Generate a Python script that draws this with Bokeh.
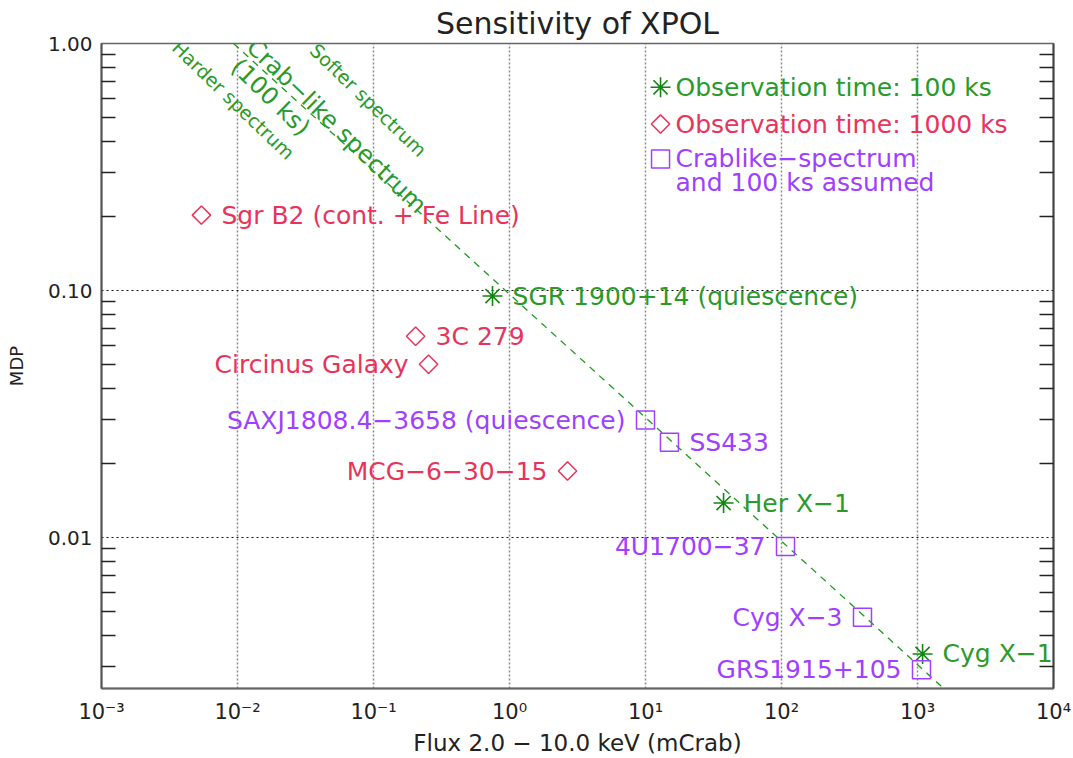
import math
from bokeh.plotting import figure
from bokeh.models import (Range1d, FixedTicker, CustomJSTickFormatter, LogAxis,
                          ColumnDataSource)
from bokeh.core.properties import value
from bokeh.embed import file_html
from bokeh.resources import INLINE

# ---------------- data ----------------
obs100_names = ["SGR 1900+14 (quiescence)", "Her X\u22121", "Cyg X\u22121"]
obs100_flux = [0.75, 37.5, 1090.0]
obs100_mdp = [0.095, 0.0138, 0.00338]
obs100_side = ["right", "right", "right"]

obs1000_names = ["Sgr B2 (cont. + Fe Line)", "3C 279", "Circinus Galaxy", "MCG\u22126\u221230\u221215"]
obs1000_flux = [0.00543, 0.204, 0.254, 2.67]
obs1000_mdp = [0.202, 0.0653, 0.0503, 0.0186]
obs1000_side = ["right", "right", "left", "left"]

crab_names = ["SAXJ1808.4\u22123658 (quiescence)", "SS433", "4U1700\u221237", "Cyg X\u22123", "GRS1915+105"]
crab_flux = [10.0, 15.0, 107.0, 394.0, 1070.0]
crab_mdp = [0.0299, 0.0243, 0.0092, 0.00476, 0.00292]
crab_side = ["left", "right", "left", "left", "left"]

# Crab-like spectrum sensitivity line (100 ks)
crab_line_flux = [0.00935, 1560.0]
crab_line_mdp = [1.0, 0.00245]

x_ticks = [1e-3, 1e-2, 1e-1, 1e0, 1e1, 1e2, 1e3, 1e4]
y_ticks = [0.01, 0.1, 1.0]
y_minor = [m * 10.0 ** e for e in (-3, -2, -1) for m in range(2, 10)]

legend_labels = ["Observation time: 100 ks", "Observation time: 1000 ks",
                 "Crablike\u2212spectrum", "and 100 ks assumed"]

# ---------------- style ----------------
FONT = "DejaVu Sans"
GREEN = "#2a9a2a"
GREEN_DARK = "#118611"
RED = "#e8345a"
PURPLE = "#a040ff"
LABEL_SIZE = "25px"

p = figure(width=1073, height=758, x_axis_type="log", y_axis_type="log",
           x_range=Range1d(1e-3, 1e4), y_range=Range1d(0.00245, 1.0),
           output_backend="svg", toolbar_location=None,
           min_border_left=101, min_border_right=20, min_border_top=41,
           min_border_bottom=68)

p.title.text = "Sensitivity of XPOL"
p.title.align = "center"
p.title.text_font = FONT
p.title.text_font_size = "30px"
p.title.text_font_style = "normal"
p.title.text_color = "#222222"
p.title.standoff = 6

p.outline_line_color = "#666666"
p.outline_line_width = 1.5
p.background_fill_color = "white"
p.border_fill_color = "white"

# x axis
xa = p.xaxis[0]
xa.ticker = FixedTicker(ticks=x_ticks, minor_ticks=[])
xa.formatter = CustomJSTickFormatter(code=r"""
const e = Math.round(Math.log10(tick));
const m = {"-":"\u207B","0":"\u2070","1":"\u00B9","2":"\u00B2","3":"\u00B3","4":"\u2074"};
return "10" + String(e).split("").map(c => m[c]).join("");
""")
xa.major_tick_in = 0
xa.major_tick_out = 0
xa.minor_tick_in = 0
xa.minor_tick_out = 0
xa.axis_line_color = "#666666"
xa.axis_line_width = 2
xa.major_label_text_font = FONT
xa.major_label_text_font_size = "21px"
xa.major_label_text_color = "#222222"
xa.major_label_standoff = 11
xa.axis_label = "Flux 2.0 \u2212 10.0 keV (mCrab)"
xa.axis_label_text_font = FONT
xa.axis_label_text_font_size = "23px"
xa.axis_label_text_font_style = "normal"
xa.axis_label_text_color = "#222222"
xa.axis_label_standoff = 3

# y axis
ya = p.yaxis[0]
ya.ticker = FixedTicker(ticks=y_ticks, minor_ticks=y_minor)
ya.formatter = CustomJSTickFormatter(code="return tick.toFixed(2);")
ya.major_tick_in = 0
ya.major_tick_out = 0
ya.minor_tick_in = 14
ya.minor_tick_out = 0
ya.minor_tick_line_color = "#222222"
ya.minor_tick_line_width = 1.5
ya.axis_line_color = "#555555"
ya.axis_line_width = 2
ya.major_label_text_font = FONT
ya.major_label_text_font_size = "20px"
ya.major_label_text_color = "#222222"
ya.major_label_standoff = 9
ya.axis_label = "MDP"
ya.axis_label_text_font = FONT
ya.axis_label_text_font_size = "18px"
ya.axis_label_text_font_style = "normal"
ya.axis_label_text_color = "#222222"
ya.axis_label_standoff = 18

ra = LogAxis(ticker=FixedTicker(ticks=y_ticks, minor_ticks=y_minor),
             formatter=CustomJSTickFormatter(code="return '';"))
ra.major_tick_in = 0
ra.major_tick_out = 0
ra.minor_tick_in = 14
ra.minor_tick_out = 0
ra.minor_tick_line_color = "#222222"
ra.minor_tick_line_width = 1.5
ra.axis_line_color = "#444444"
ra.axis_line_width = 2
ra.major_label_text_font_size = "0px"
ra.major_label_standoff = 0
p.add_layout(ra, "right")

p.xgrid.grid_line_color = "#888888"
p.xgrid.grid_line_dash = "2 2"
p.xgrid.grid_line_width = 1.5
p.ygrid.grid_line_color = "#111111"
p.ygrid.grid_line_dash = "2 3"
p.ygrid.grid_line_width = 1

# sensitivity line
p.line(crab_line_flux, crab_line_mdp, line_color="#1f9a1f", line_width=1.3,
       line_dash="7 6")

# markers
p.scatter(obs100_flux, obs100_mdp, marker="asterisk", size=20,
          line_color=GREEN_DARK, line_width=1.6)
p.scatter(obs1000_flux, obs1000_mdp, marker="square", angle=45, angle_units="deg",
          size=13, fill_color=None, line_color=RED, line_width=1.5)
p.scatter(crab_flux, crab_mdp, marker="square", size=18, fill_color=None,
          line_color=PURPLE, line_width=1.5)


def add_labels(names, flux, mdp, side, color):
    for s, align, off in (("right", "left", 20), ("left", "right", -20)):
        idx = [i for i, v in enumerate(side) if v == s]
        if not idx:
            continue
        src = ColumnDataSource(dict(x=[flux[i] for i in idx],
                                    y=[mdp[i] for i in idx],
                                    t=[names[i] for i in idx]))
        p.text(x="x", y="y", text="t", source=src, x_offset=off,
               text_align=align, text_baseline="middle", text_color=color,
               text_font=value(FONT), text_font_size=LABEL_SIZE)


add_labels(obs100_names, obs100_flux, obs100_mdp, obs100_side, GREEN)
add_labels(obs1000_names, obs1000_flux, obs1000_mdp, obs1000_side, RED)
add_labels(crab_names, crab_flux, crab_mdp, crab_side, PURPLE)

# legend (drawn as text + markers inside the plot)
LEG_X = 12.9
LEG_Y = [0.665, 0.472, 0.341, 0.273]
p.scatter([LEG_X], [LEG_Y[0]], marker="asterisk", size=20, line_color=GREEN_DARK, line_width=1.6)
p.scatter([LEG_X], [LEG_Y[1]], marker="square", angle=45, angle_units="deg", size=13,
          fill_color=None, line_color=RED, line_width=1.5)
p.scatter([LEG_X], [LEG_Y[2]], marker="square", size=18, fill_color=None,
          line_color=PURPLE, line_width=1.5)
leg_colors = [GREEN, RED, PURPLE, PURPLE]
for lab, ly, c in zip(legend_labels, LEG_Y, leg_colors):
    p.text(x=[LEG_X], y=[ly], text=[lab], x_offset=15, text_align="left",
           text_baseline="middle", text_color=c, text_font=value(FONT),
           text_font_size=LABEL_SIZE)

# rotated annotations along the crab line
ANG = -44
p.text(x=[0.0535], y=[0.463], text=["Crab\u2212like spectrum"], angle=ANG, angle_units="deg",
       text_align="center", text_baseline="middle", text_color=GREEN,
       text_font=value(FONT), text_font_size="24px")
p.text(x=[0.0175], y=[0.606], text=["(100 ks)"], angle=ANG, angle_units="deg",
       text_align="center", text_baseline="middle", text_color=GREEN,
       text_font=value(FONT), text_font_size="24px")
p.text(x=[0.00935], y=[0.590], text=["Harder spectrum"], angle=ANG, angle_units="deg",
       text_align="center", text_baseline="middle", text_color=GREEN,
       text_font=value(FONT), text_font_size="19px")
p.text(x=[0.0918], y=[0.590], text=["Softer spectrum"], angle=ANG, angle_units="deg",
       text_align="center", text_baseline="middle", text_color=GREEN,
       text_font=value(FONT), text_font_size="19px")

open("out.html", "w").write(file_html(p, INLINE))
